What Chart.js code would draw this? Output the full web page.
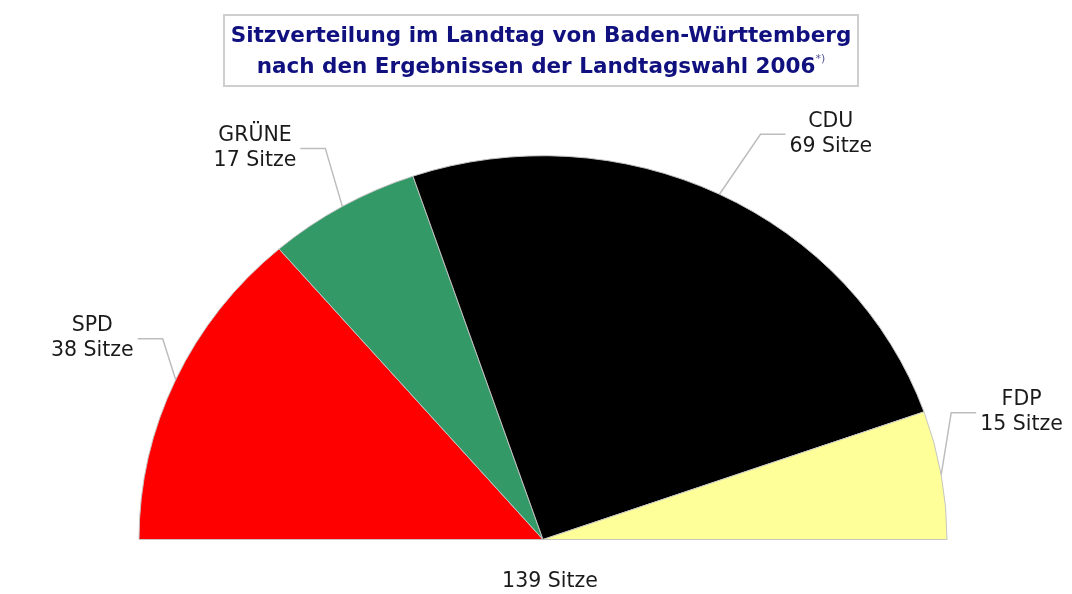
<!DOCTYPE html>
<html>
<head>
<meta charset="utf-8">
<script src="https://cdn.jsdelivr.net/npm/chart.js@4.4.1/dist/chart.umd.min.js"></script>
<style>
  html, body { margin: 0; padding: 0; background: #fff; }
  #wrap { position: relative; width: 1072px; height: 594px; }
  #title {
    position: absolute; left: 223px; top: 14px; width: 632px; height: 66px;
    border: 2px solid #cfcfcf; box-sizing: content-box;
    font-family: "DejaVu Sans", Verdana, sans-serif; font-weight: bold; font-size: 21.5px;
    color: #10107f; text-align: center; line-height: 31px; padding-top: 3px;
  }
  #title sup {
    font-size: 11px; font-weight: normal; color: #555599;
    vertical-align: baseline; position: relative; top: -11px; line-height: 0;
  }
  canvas { position: absolute; left: 0; top: 0; }
</style>
</head>
<body>
<div id="wrap">
  <canvas id="seats" width="1072" height="594"></canvas>
  <div id="title">Sitzverteilung im Landtag von Baden-Württemberg<br>nach den Ergebnissen der Landtagswahl 2006<sup>*)</sup></div>
</div>
<script>
// --- Data ---
const parties = ['SPD', 'GRÜNE', 'CDU', 'FDP'];
const seats = [38, 17, 69, 15];
const partyColors = ['#ff0000', '#339966', '#000000', '#ffff99'];
const totalLabel = '139 Sitze';

// vertical squash of the half circle (reference is slightly flattened)
const SQUASH = 0.95;

// elbow of each leader line, relative to the point on the rim
const elbowOffsets = [[-13, -41], [-17, -58], [41, -60], [10, -62]];

const squashPlugin = {
    id: 'squash',
    beforeDatasetsDraw(chart) {
        const arc = chart.getDatasetMeta(0).data[0];
        const ctx = chart.ctx;
        ctx.save();
        ctx.translate(arc.x, arc.y);
        ctx.scale(1, SQUASH);
        ctx.translate(-arc.x, -arc.y);
    },
    afterDatasetsDraw(chart) {
        chart.ctx.restore();
    }
};

const labelPlugin = {
    id: 'seatLabels',
    afterDraw(chart) {
        const ctx = chart.ctx;
        const arcs = chart.getDatasetMeta(0).data;
        ctx.save();
        ctx.font = '20.5px "DejaVu Sans", Verdana, sans-serif';
        ctx.textBaseline = 'middle';
        ctx.textAlign = 'center';
        arcs.forEach((arc, i) => {
            const mid = (arc.startAngle + arc.endAngle) / 2;
            const R = arc.outerRadius;
            const ex = arc.x + Math.cos(mid) * R;
            const ey = arc.y + Math.sin(mid) * R * SQUASH;
            const bx = ex + elbowOffsets[i][0];
            const by = ey + elbowOffsets[i][1];
            const side = Math.cos(mid) < 0 ? -1 : 1;
            const lx = bx + side * 25;

            ctx.strokeStyle = '#bdbdbd';
            ctx.lineWidth = 1.5;
            ctx.beginPath();
            ctx.moveTo(ex, ey);
            ctx.lineTo(bx, by);
            ctx.lineTo(lx, by);
            ctx.stroke();

            const line1 = parties[i];
            const line2 = seats[i] + ' Sitze';
            const w = Math.max(ctx.measureText(line1).width, ctx.measureText(line2).width);
            const tx = lx + side * (w / 2 + 4);
            ctx.fillStyle = '#1a1a1a';
            ctx.fillText(line1, tx, by - 13);
            ctx.fillText(line2, tx, by + 12);
        });
        const a0 = arcs[0];
        ctx.fillStyle = '#1a1a1a';
        ctx.fillText(totalLabel, a0.x + 7, a0.y + 42);
        ctx.restore();
    }
};

new Chart(document.getElementById('seats'), {
    type: 'doughnut',
    data: {
        labels: parties,
        datasets: [{
            data: seats,
            backgroundColor: partyColors,
            borderColor: '#c4c4c4',
            borderWidth: 1
        }]
    },
    options: {
        responsive: false,
        animation: false,
        rotation: -90,
        circumference: 180,
        cutout: 0,
        layout: { padding: { left: 138, right: 124, top: 135, bottom: 54 } },
        plugins: {
            legend: { display: false },
            tooltip: { enabled: false },
            title: { display: false }
        }
    },
    plugins: [squashPlugin, labelPlugin]
});
</script>
</body>
</html>
